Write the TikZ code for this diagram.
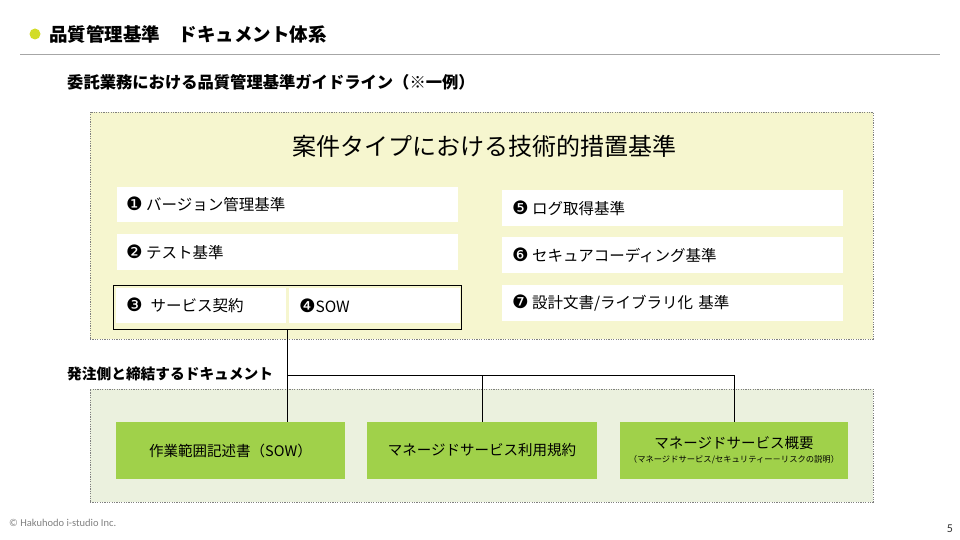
\documentclass[tikz,border=0pt]{standalone}
\usepackage{fontspec}
\setmainfont{Noto Sans CJK JP}
\newfontfamily\circfont{DejaVu Sans}
\newfontfamily\footfont{Carlito}
\definecolor{dotyellow}{HTML}{D2DC28}
\definecolor{paleyellow}{HTML}{F6F6CF}
\definecolor{palegreen}{HTML}{EBF1DE}
\definecolor{leafgreen}{HTML}{A0D14A}
\definecolor{rulegray}{HTML}{A6A6A6}
\definecolor{footgray}{HTML}{808080}
\newcommand{\cn}[1]{{\circfont\fontsize{18.5}{18}\selectfont #1}}
\tikzset{
  area/.style={draw=gray, line width=0.7pt, dash pattern=on 1.2pt off 1.2pt, inner sep=0pt},
  wbox/.style={fill=white, inner xsep=9pt, inner ysep=0pt, minimum height=35pt, align=left,
    font=\fontsize{15.5}{18}\selectfont},
  gbox/.style={fill=leafgreen, inner sep=0pt, minimum height=57pt, align=center,
    font=\fontsize{14.5}{17}\selectfont},
  conn/.style={draw=black, line width=0.9pt},
}
\begin{document}
\begin{tikzpicture}[x=1pt,y=-1pt]
\useasboundingbox (0,0) rectangle (960,540);
% header
\fill[dotyellow] (35,34) circle (5.5);
\node[anchor=west, inner sep=0pt, font=\fontsize{18.5}{22}\selectfont\bfseries] (title) at (49,34) {品質管理基準　ドキュメント体系};
\draw[rulegray, line width=1pt] (20,55) -- (940,55);
\node[anchor=west, inner sep=0pt, font=\fontsize{16.3}{19}\selectfont\bfseries] (sub) at (67,82) {委託業務における品質管理基準ガイドライン（※一例）};
% yellow area
\node[area, fill=paleyellow, minimum width=783pt, minimum height=227pt] (yarea) at (481.5,225.5) {};
\node[inner sep=0pt, font=\fontsize{24}{28}\selectfont] (ytitle) at (484,146) {案件タイプにおける技術的措置基準};
% left boxes
\node[wbox, text width=323pt] (b1) at (287.5,204.5) {\cn{❶}\hspace{3.5pt}バージョン管理基準};
\node[wbox, text width=323pt, minimum height=36pt] (b2) at (287.5,252) {\cn{❷}\hspace{3.5pt}テスト基準};
\node[draw=black, line width=1pt, minimum width=348pt, minimum height=44pt, inner sep=0pt] (grp) at (287,307) {};
\node[wbox, text width=150pt, inner xsep=10pt] (b3) at (201,305.5) {\cn{❸}\hspace{8pt}サービス契約};
\node[wbox, text width=151pt, inner xsep=10pt] (b4) at (374.5,305.5) {\cn{❹}SOW};
% right boxes
\node[wbox, text width=321pt, inner xsep=10pt, minimum height=36pt] (b5) at (672.5,208) {\cn{❺}\hspace{3.5pt}ログ取得基準};
\node[wbox, text width=321pt, inner xsep=10pt, minimum height=36pt] (b6) at (672.5,255) {\cn{❻}\hspace{3.5pt}セキュアコーディング基準};
\node[wbox, text width=321pt, inner xsep=10pt, minimum height=36pt] (b7) at (672.5,303) {\cn{❼}\hspace{3.5pt}設計文書/ライブラリ化 基準};
% green area
\node[area, fill=palegreen, minimum width=783pt, minimum height=113pt] (garea) at (481.5,445.5) {};
\node[anchor=west, inner sep=0pt, font=\fontsize{14.7}{17}\selectfont\bfseries] (glabel) at (67,374) {発注側と締結するドキュメント};
\node[gbox, minimum width=229pt] (g1) at (230.5,450.5) {作業範囲記述書（SOW）};
\node[gbox, minimum width=230pt] (g2) at (482,450.5) {マネージドサービス利用規約};
\node[gbox, minimum width=228pt] (g3) at (734,450.5) {マネージドサービス概要\\[-3pt]{\fontsize{8.3}{10}\selectfont （マネージドサービス/セキュリティー－リスクの説明）}};
% connectors
\coordinate (j1) at (287,375);
\draw[conn] (grp.south) -- (grp.south |- g1.north);
\draw[conn] (j1) -- (j1 -| g3.north) -- (g3.north);
\draw[conn] (j1 -| g2.north) -- (g2.north);
% footer
\node[anchor=west, inner sep=0pt, text=footgray, font=\footfont\fontsize{10.5}{12}\selectfont] (copy) at (9,523) {© Hakuhodo i-studio Inc.};
\node[inner sep=0pt, text=black!80, font=\footfont\fontsize{12}{14}\selectfont] (page) at (950,529) {5};
\end{tikzpicture}
\end{document}
